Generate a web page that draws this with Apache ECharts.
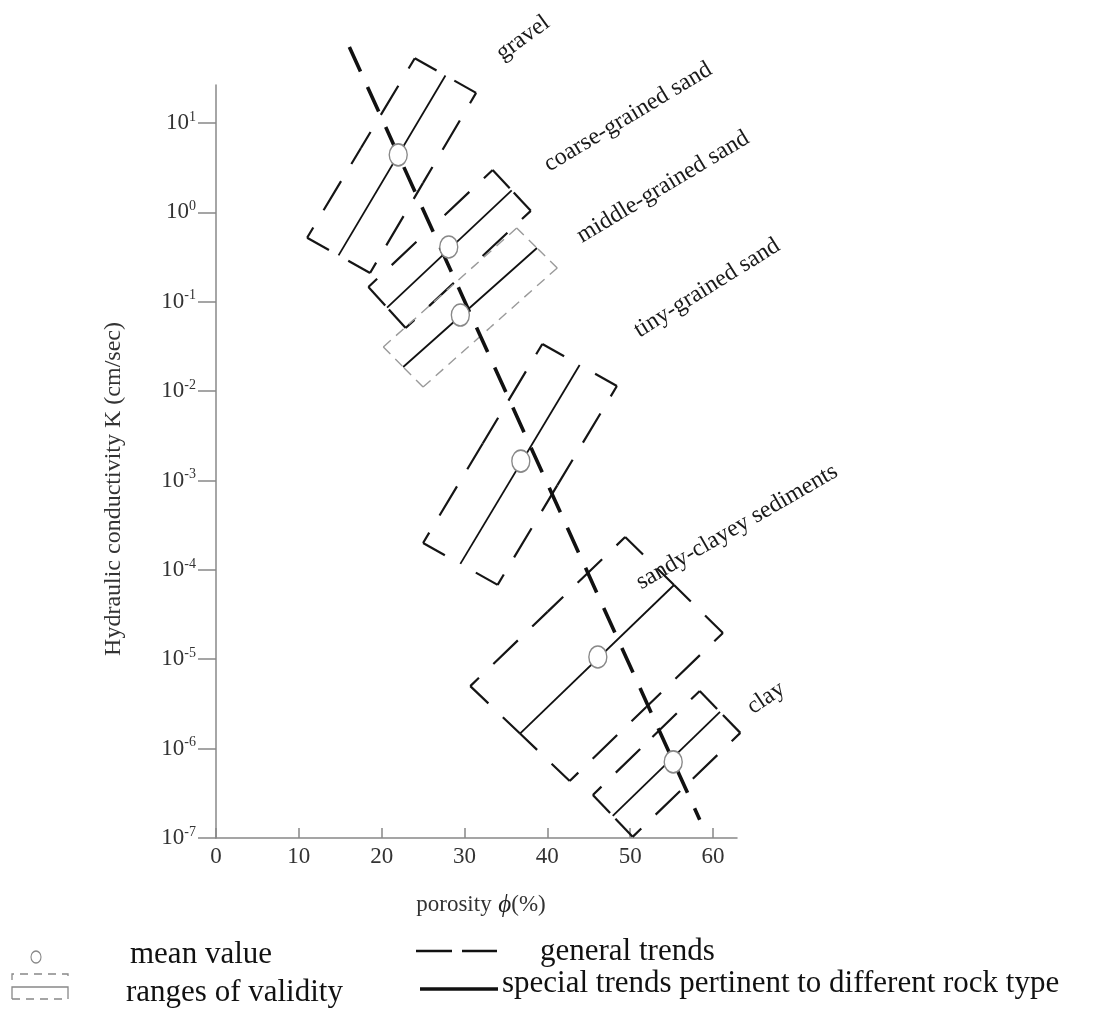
<!DOCTYPE html>
<html>
<head>
<meta charset="utf-8">
<title>Hydraulic conductivity vs porosity</title>
<script src="https://cdn.jsdelivr.net/npm/echarts@6/dist/echarts.min.js"></script>
<style>
  html, body { margin: 0; padding: 0; background: #fff; }
  #chart { width: 1100px; height: 1014px; }
</style>
</head>
<body>
<div id="chart"></div>
<script>
// axis ticks: porosity (%) and decade exponents of K (cm/sec)
const porosityTicks = [0, 10, 20, 30, 40, 50, 60]
const kExponents = [-7, -6, -5, -4, -3, -2, -1, 0, 1]

const rockTypes = ['gravel', 'coarse-grained sand', 'middle-grained sand', 'tiny-grained sand', 'sandy-clayey sediments', 'clay']
// mean values
const meanPorosity = [22.0, 28.1, 29.5, 36.8, 46.1, 55.2]
const meanK = [4.4, 0.41, 0.071, 1.65e-3, 1.06e-5, 7.1e-7]

// ranges of validity, corners as [porosity, K]: upper end first, then lower end
const gravelRange = [[24.0, 53], [31.4, 21.7], [18.6, 0.21], [11.0, 0.52]]
const coarseRange = [[33.4, 2.98], [38.0, 1.04], [22.9, 0.0508], [18.4, 0.146]]
const middleRange = [[36.3, 0.668], [41.2, 0.239], [25.0, 0.0111], [20.2, 0.0312]]
const tinyRange = [[39.4, 0.0337], [48.4, 0.0114], [34.0, 6.8e-5], [25.0, 2.0e-4]]
const sandyClayRange = [[49.4, 2.33e-4], [61.2, 1.97e-5], [42.7, 4.35e-7], [30.7, 5.0e-6]]
const clayRange = [[58.4, 4.42e-6], [63.3, 1.5e-6], [50.3, 1.03e-7], [45.5, 3.03e-7]]

// general trend (both ends)
const trendPorosity = [16.1, 58.4]
const trendK = [71, 1.6e-7]

const ranges = [gravelRange, coarseRange, middleRange, tinyRange, sandyClayRange, clayRange]
const lg = Math.log10
const serif = 'Liberation Serif, DejaVu Serif, serif'

// label placement for the rock type names [x, y, angle deg]
const labelLayout = [[523, 38, 36], [628, 117, 31], [663, 187, 31], [707, 288, 32], [737, 527, 30], [766, 698, 34]]

const blackEdge = { stroke: '#151515', lineWidth: 2.2, lineDash: [34, 20] }
const greyEdge = { stroke: '#9a9a9a', lineWidth: 1.4, lineDash: [10, 7] }

function seg (a, b, style, offset) {
  return {
    type: 'line',
    shape: { x1: a[0], y1: a[1], x2: b[0], y2: b[1] },
    style: Object.assign({}, style, { lineDashOffset: offset })
  }
}
function midPt (a, b) {
  return [(a[0] + b[0]) / 2, (a[1] + b[1]) / 2]
}

function renderRange (params, api) {
  const idx = params.dataIndex
  const pts = ranges[idx].map(c => api.coord([c[0], lg(c[1])]))
  const grey = idx === 2
  const style = grey ? greyEdge : blackEdge
  const children = []
  for (let e = 0; e < 4; e++) {
    const a = pts[e]
    const b = pts[(e + 1) % 4]
    const m = midPt(a, b)
    // short ends get a longer first dash, long sides a short corner stub
    const off = grey ? 0 : (e % 2 === 0 ? 9 : 22)
    children.push(seg(a, m, style, off), seg(b, m, style, off))
  }
  const top = midPt(pts[0], pts[1])
  const bot = midPt(pts[2], pts[3])
  children.push({
    type: 'line',
    shape: { x1: top[0], y1: top[1], x2: bot[0], y2: bot[1] },
    style: { stroke: '#111', lineWidth: 1.8 }
  })
  return { type: 'group', children: children }
}

const graphics = []
rockTypes.forEach((name, i) => {
  const p = labelLayout[i]
  graphics.push({
    type: 'text', x: p[0], y: p[1], rotation: p[2] * Math.PI / 180,
    style: { text: name, fontSize: 24, fontFamily: serif, fill: '#1a1a1a', align: 'center', verticalAlign: 'middle' }
  })
})
// axis titles
graphics.push({
  type: 'text', x: 114, y: 489, rotation: Math.PI / 2,
  style: { text: 'Hydraulic conductivity K (cm/sec)', fontSize: 24, fontFamily: serif, fill: '#333', align: 'center', verticalAlign: 'middle' }
})
graphics.push({
  type: 'text', x: 481, y: 905,
  style: {
    text: '{a|porosity}  {b|ϕ}{a|(%)}',
    align: 'center', verticalAlign: 'middle',
    rich: {
      a: { fontSize: 23, fontFamily: serif, fill: '#333' },
      b: { fontSize: 25, fontFamily: serif, fontStyle: 'italic', fill: '#222' }
    }
  }
})
// legend
graphics.push(
  { type: 'circle', x: 36, y: 957, scaleY: 1.2, shape: { cx: 0, cy: 0, r: 5 }, style: { fill: '#fff', stroke: '#888', lineWidth: 1.1 } },
  { type: 'text', x: 130, y: 955, style: { text: 'mean value', fontSize: 31, fontFamily: serif, fill: '#111', verticalAlign: 'middle' } },
  { type: 'polyline', shape: { points: [[12, 980], [12, 974], [68, 974], [68, 980]] }, style: { stroke: '#888', lineWidth: 1.3, lineDash: [8, 6], fill: null } },
  { type: 'polyline', shape: { points: [[12, 999], [12, 987], [68, 987], [68, 999]] }, style: { stroke: '#888', lineWidth: 1.3, fill: null } },
  { type: 'line', shape: { x1: 12, y1: 999, x2: 68, y2: 999 }, style: { stroke: '#888', lineWidth: 1.3, lineDash: [8, 6] } },
  { type: 'text', x: 126, y: 993, style: { text: 'ranges of validity', fontSize: 31, fontFamily: serif, fill: '#111', verticalAlign: 'middle' } },
  { type: 'line', shape: { x1: 416, y1: 951, x2: 452, y2: 951 }, style: { stroke: '#111', lineWidth: 2.6 } },
  { type: 'line', shape: { x1: 462, y1: 951, x2: 497, y2: 951 }, style: { stroke: '#111', lineWidth: 2.6 } },
  { type: 'text', x: 540, y: 952, style: { text: 'general trends', fontSize: 31, fontFamily: serif, fill: '#111', verticalAlign: 'middle' } },
  { type: 'line', shape: { x1: 420, y1: 989, x2: 498, y2: 989 }, style: { stroke: '#111', lineWidth: 3.6 } },
  { type: 'text', x: 502, y: 984, style: { text: 'special trends pertinent to different rock type', fontSize: 31, fontFamily: serif, fill: '#111', verticalAlign: 'middle' } }
)

const chart = echarts.init(document.getElementById('chart'))
chart.setOption({
  animation: false,
  backgroundColor: '#fff',
  grid: { left: 216, right: 363, top: 85, bottom: 176 },
  xAxis: {
    type: 'value',
    min: 0,
    max: 62.9,
    axisLine: { onZero: false, lineStyle: { color: '#888', width: 1.5 } },
    axisTick: { show: true, inside: true, length: 10, customValues: porosityTicks, lineStyle: { color: '#888', width: 1.5 } },
    axisLabel: { customValues: porosityTicks, margin: 7, fontSize: 23, fontFamily: serif, color: '#333' },
    splitLine: { show: false }
  },
  yAxis: {
    type: 'value',
    min: -7,
    max: 1.425,
    axisLine: { show: true, lineStyle: { color: '#888', width: 1.5 } },
    axisTick: { show: true, length: 18, customValues: kExponents, lineStyle: { color: '#888', width: 1.5 } },
    axisLabel: {
      customValues: kExponents,
      margin: 20,
      formatter: v => '{b|10}{s|' + Math.round(v) + '}',
      rich: {
        b: { fontSize: 23, fontFamily: serif, color: '#333', lineHeight: 26 },
        s: { fontSize: 14, fontFamily: serif, color: '#333', lineHeight: 14, verticalAlign: 'top' }
      }
    },
    splitLine: { show: false }
  },
  graphic: graphics,
  series: [
    {
      name: 'ranges of validity',
      type: 'custom',
      clip: false,
      silent: true,
      z: 2,
      renderItem: renderRange,
      data: ranges.map((r, i) => [meanPorosity[i], lg(meanK[i])])
    },
    {
      name: 'general trends',
      type: 'line',
      clip: false,
      silent: true,
      z: 3,
      symbol: 'none',
      lineStyle: { color: '#111', width: 3.6, type: [27, 17] },
      data: trendPorosity.map((p, i) => [p, lg(trendK[i])])
    },
    {
      name: 'mean value',
      type: 'scatter',
      silent: true,
      z: 5,
      symbol: 'circle',
      symbolSize: [18, 22],
      itemStyle: { color: '#fff', borderColor: '#888', borderWidth: 1.5, opacity: 1 },
      data: meanPorosity.map((p, i) => [p, lg(meanK[i])])
    }
  ]
})
</script>
</body>
</html>
